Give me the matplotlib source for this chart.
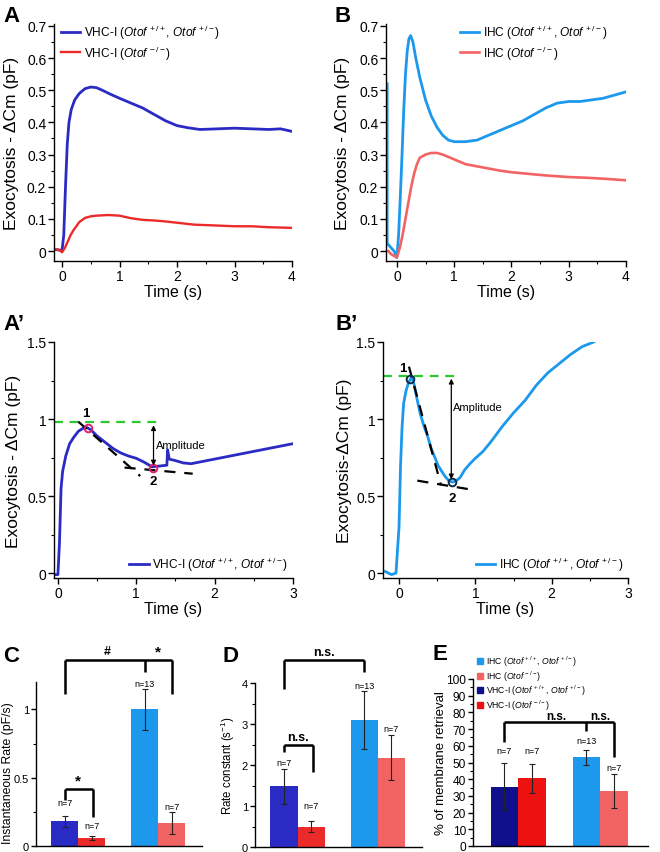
import numpy as np
import matplotlib
matplotlib.use("Agg")
import matplotlib.pyplot as plt
from matplotlib.ticker import MultipleLocator
from matplotlib.lines import Line2D

plt.rcParams['font.family'] = ['Liberation Sans', 'DejaVu Sans']
plt.rcParams['mathtext.fontset'] = 'custom'
plt.rcParams['mathtext.rm'] = 'Liberation Sans'
plt.rcParams['mathtext.it'] = 'Liberation Sans:italic'
plt.rcParams['mathtext.bf'] = 'Liberation Sans:bold'
plt.rcParams['axes.linewidth'] = 1.0

# ---- colours
c_vhc = '#2a2ac4'
c_vhc_ko = '#ec2a2a'
c_ihc = '#1c98ec'
c_ihc_ko = '#f26464'
c_navy = '#10108c'

# ---- panel A traces (VHC-I)
a_wt_t = [-0.14, -0.05, 0.0, 0.03, 0.06, 0.09, 0.12, 0.16, 0.22, 0.3, 0.4, 0.5, 0.6, 0.7,
          0.85, 1.0, 1.2, 1.4, 1.6, 1.8, 2.0, 2.2, 2.4, 2.7, 3.0, 3.3, 3.6, 3.8, 4.0]
a_wt_y = [0.005, 0.003, 0.002, 0.05, 0.2, 0.33, 0.4, 0.44, 0.47, 0.49, 0.505, 0.51, 0.508, 0.5,
          0.487, 0.475, 0.46, 0.445, 0.425, 0.405, 0.39, 0.383, 0.378, 0.38, 0.382, 0.38, 0.378, 0.38, 0.372]
a_ko_t = [-0.14, -0.05, 0.0, 0.05, 0.1, 0.15, 0.2, 0.3, 0.4, 0.5, 0.6, 0.8, 1.0, 1.2, 1.4, 1.6,
          1.8, 2.0, 2.3, 2.6, 3.0, 3.3, 3.6, 4.0]
a_ko_y = [0.005, 0.004, -0.004, 0.01, 0.03, 0.05, 0.065, 0.09, 0.103, 0.108, 0.11, 0.112, 0.11,
          0.102, 0.097, 0.095, 0.092, 0.088, 0.082, 0.08, 0.077, 0.077, 0.074, 0.072]

# ---- panel B traces (IHC)
b_wt_t = [-0.17, -0.17, -0.15, -0.1, -0.05, 0.0, 0.03, 0.06, 0.09, 0.12, 0.15, 0.18, 0.21, 0.24,
          0.28, 0.33, 0.4, 0.5, 0.6, 0.7, 0.8, 0.9, 1.0, 1.2, 1.4, 1.6, 1.8, 2.0, 2.2, 2.4, 2.6,
          2.8, 3.0, 3.2, 3.4, 3.6, 3.8, 4.0]
b_wt_y = [0.52, 0.02, 0.02, 0.01, 0.0, -0.02, 0.05, 0.17, 0.3, 0.44, 0.55, 0.62, 0.66, 0.67,
          0.65, 0.6, 0.54, 0.47, 0.42, 0.385, 0.36, 0.345, 0.34, 0.34, 0.345, 0.36, 0.375, 0.39,
          0.405, 0.425, 0.445, 0.46, 0.465, 0.465, 0.47, 0.475, 0.485, 0.495]
b_ko_t = [-0.15, -0.1, -0.05, 0.0, 0.05, 0.1, 0.15, 0.2, 0.25, 0.3, 0.35, 0.4, 0.5, 0.6, 0.7,
          0.8, 1.0, 1.2, 1.5, 1.8, 2.0, 2.3, 2.6, 3.0, 3.3, 3.6, 4.0]
b_ko_y = [0.0, -0.01, -0.015, -0.02, 0.01, 0.05, 0.1, 0.15, 0.2, 0.24, 0.27, 0.29, 0.3, 0.305,
          0.305, 0.3, 0.285, 0.27, 0.26, 0.25, 0.245, 0.24, 0.235, 0.23, 0.228, 0.225, 0.22]

# ---- panel A' trace
ap_t = [-0.04, 0.0, 0.02, 0.04, 0.06, 0.1, 0.15, 0.2, 0.26, 0.32, 0.37, 0.42, 0.5, 0.6, 0.7,
        0.8, 0.9, 1.0, 1.1, 1.2, 1.3, 1.39, 1.40, 1.42, 1.5, 1.6, 1.7, 1.8, 2.0, 2.2, 2.4, 2.6,
        2.8, 3.0]
ap_y = [-0.01, -0.01, 0.2, 0.55, 0.66, 0.76, 0.84, 0.88, 0.92, 0.94, 0.945, 0.93, 0.89, 0.85,
        0.81, 0.78, 0.76, 0.745, 0.72, 0.69, 0.695, 0.70, 0.80, 0.74, 0.73, 0.715, 0.71, 0.72,
        0.74, 0.76, 0.78, 0.80, 0.82, 0.84]
ap_pts_t = [0.39, 1.21]
ap_pts_y = [0.94, 0.68]
ap_level = 0.978
ap_fit1 = ([0.26, 1.05], [0.983, 0.63])
ap_fit2 = ([0.85, 1.72], [0.685, 0.645])

# ---- panel B' trace
bp_t = [-0.18, -0.1, -0.04, 0.0, 0.02, 0.04, 0.06, 0.09, 0.12, 0.15, 0.17, 0.2, 0.24, 0.28,
        0.33, 0.38, 0.42, 0.47, 0.51, 0.56, 0.6, 0.65, 0.7, 0.75, 0.8, 0.86, 0.93, 1.0, 1.1, 1.2,
        1.35, 1.5, 1.65, 1.8, 1.95, 2.1, 2.25, 2.4, 2.55]
bp_y = [0.01, -0.01, 0.0, 0.3, 0.7, 0.95, 1.1, 1.18, 1.23, 1.26, 1.27, 1.22, 1.12, 1.03, 0.95,
        0.88, 0.81, 0.75, 0.7, 0.66, 0.63, 0.6, 0.59, 0.6, 0.62, 0.67, 0.71, 0.745, 0.79, 0.85,
        0.95, 1.04, 1.12, 1.22, 1.3, 1.36, 1.42, 1.47, 1.5]
bp_pts_t = [0.15, 0.69]
bp_pts_y = [1.26, 0.59]
bp_level = 1.28
bp_fit1 = ([0.13, 0.55], [1.34, 0.57])
bp_fit2 = ([0.24, 0.97], [0.60, 0.54])

# ---- bar panels: order VHC-I wt, VHC-I ko, IHC wt, IHC ko
bar_x = [-0.17, 0.17, 0.83, 1.17]
c_vals = [0.18, 0.06, 1.0, 0.17]
c_errs = [0.04, 0.015, 0.15, 0.08]
d_vals = [1.48, 0.5, 3.1, 2.18]
d_errs = [0.42, 0.13, 0.7, 0.55]
e_vals = [35.5, 40.5, 53.0, 33.0]
e_errs = [14.0, 8.7, 4.5, 10.0]
n_labels = ['n=7', 'n=7', 'n=13', 'n=7']

W, H = 660, 853
fig = plt.figure(figsize=(W / 100, H / 100), dpi=100)


def px_axes(x0, x1, y0, y1):
    return fig.add_axes([x0 / W, 1 - y1 / H, (x1 - x0) / W, (y1 - y0) / H])


def style(ax):
    for s in ['top', 'right']:
        ax.spines[s].set_visible(False)
    ax.tick_params(labelsize=10, length=4, width=1, pad=1.5)
    ax.tick_params(which='minor', length=2.2, width=0.8)


def ital(cell, *sup):
    parts = [r'$\mathit{Otof}^{\,%s}$' % s for s in sup]
    return cell + ' (' + ', '.join(parts) + ')'


ylab = 'Exocytosis - \u0394Cm (pF)'
lab_fs = 12.5
time_fs = 11.5

# ---------- A
axA = px_axes(54, 292, 25, 262)
axA.plot(a_wt_t, a_wt_y, color=c_vhc, lw=2.0, label=ital('VHC-I', '+/+', '+/-'))
axA.plot(a_ko_t, a_ko_y, color=c_vhc_ko, lw=1.7, label=ital('VHC-I', '-/-'))
axA.set_xlim(-0.14, 4.0)
axA.set_ylim(-0.031, 0.706)
axA.xaxis.set_major_locator(MultipleLocator(1))
axA.xaxis.set_minor_locator(MultipleLocator(0.5))
axA.yaxis.set_minor_locator(MultipleLocator(0.05))
axA.set_yticks(np.arange(0, 0.71, 0.1))
axA.set_yticklabels(['0', '0.1', '0.2', '0.3', '0.4', '0.5', '0.6', '0.7'])
style(axA)
axA.set_xlabel('Time (s)', fontsize=time_fs, labelpad=1)
axA.set_ylabel(ylab, fontsize=lab_fs)
axA.yaxis.set_label_coords(-0.145, 0.5)
axA.legend(loc='upper left', bbox_to_anchor=(0.0, 1.035), frameon=False, fontsize=8.6,
           handlelength=1.6, handletextpad=0.3, labelspacing=0.2, borderaxespad=0.2)

# ---------- B
axB = px_axes(386, 626, 25, 262)
axB.plot(b_wt_t, b_wt_y, color=c_ihc, lw=2.0, label=ital('IHC', '+/+', '+/-'))
axB.plot(b_ko_t, b_ko_y, color=c_ihc_ko, lw=1.9, label=ital('IHC', '-/-'))
axB.set_xlim(-0.19, 4.0)
axB.set_ylim(-0.031, 0.706)
axB.xaxis.set_major_locator(MultipleLocator(1))
axB.xaxis.set_minor_locator(MultipleLocator(0.5))
axB.yaxis.set_minor_locator(MultipleLocator(0.05))
axB.set_yticks(np.arange(0, 0.71, 0.1))
axB.set_yticklabels(['0', '0.1', '0.2', '0.3', '0.4', '0.5', '0.6', '0.7'])
style(axB)
axB.set_xlabel('Time (s)', fontsize=time_fs, labelpad=1)
axB.set_ylabel(ylab, fontsize=lab_fs)
axB.yaxis.set_label_coords(-0.15, 0.5)
axB.legend(loc='upper left', bbox_to_anchor=(0.28, 1.035), frameon=False, fontsize=8.6,
           handlelength=1.6, handletextpad=0.3, labelspacing=0.2, borderaxespad=0.2)

# ---------- A'
axAp = px_axes(54, 293, 343, 579)
axAp.plot(ap_t, ap_y, color=c_vhc, lw=2.0, label=ital('VHC-I', '+/+', '+/-'))
axAp.plot([-0.05, 1.26], [ap_level, ap_level], color='#2ec82e', lw=1.6, ls=(0, (4, 3)))
axAp.plot(*ap_fit1, color='black', lw=1.6, ls=(0, (5, 4)))
axAp.plot(*ap_fit2, color='black', lw=1.6, ls=(0, (5, 4)))
axAp.plot(ap_pts_t, ap_pts_y, 'o', ms=5.5, mfc='none', mec='#e0206a', mew=1.4)
axAp.annotate('', xy=(1.22, ap_pts_y[1]), xytext=(1.22, ap_level),
              arrowprops=dict(arrowstyle='<|-|>', color='black', lw=0.9, mutation_scale=7))
axAp.text(1.25, 0.83, 'Amplitude', fontsize=8, va='center')
axAp.text(0.36, 1.0, '1', fontsize=9.5, fontweight='bold', ha='center', va='bottom')
axAp.text(1.21, 0.6, '2', fontsize=9.5, fontweight='bold', ha='center', va='center')
axAp.set_xlim(-0.05, 3.0)
axAp.set_ylim(-0.032, 1.5)
axAp.xaxis.set_major_locator(MultipleLocator(1))
axAp.xaxis.set_minor_locator(MultipleLocator(0.5))
axAp.set_yticks([0, 0.5, 1, 1.5])
axAp.set_yticklabels(['0', '0.5', '1', '1.5'])
axAp.yaxis.set_minor_locator(MultipleLocator(0.25))
style(axAp)
axAp.set_xlabel('Time (s)', fontsize=time_fs, labelpad=1)
axAp.set_ylabel(ylab, fontsize=lab_fs)
axAp.yaxis.set_label_coords(-0.14, 0.5)
axAp.legend(handles=[axAp.lines[0]], loc='lower right', frameon=False, fontsize=8.6,
            handlelength=1.6, handletextpad=0.3, borderaxespad=0.0)

# ---------- B'
axBp = px_axes(383, 628, 343, 579)
axBp.plot(bp_t, bp_y, color=c_ihc, lw=2.0, label=ital('IHC', '+/+', '+/-'))
axBp.plot([-0.21, 0.75], [bp_level, bp_level], color='#2ec82e', lw=1.6, ls=(0, (4, 3)))
axBp.plot(*bp_fit1, color='black', lw=1.6, ls=(0, (5, 4)))
axBp.plot(*bp_fit2, color='black', lw=1.6, ls=(0, (5, 4)))
axBp.plot(bp_pts_t, bp_pts_y, 'o', ms=5.5, mfc='none', mec='#0b2a44', mew=1.4)
axBp.annotate('', xy=(0.685, bp_pts_y[1]), xytext=(0.685, bp_level),
              arrowprops=dict(arrowstyle='<|-|>', color='black', lw=0.9, mutation_scale=7))
axBp.text(0.71, 1.08, 'Amplitude', fontsize=8, va='center')
axBp.text(0.05, 1.33, '1', fontsize=9.5, fontweight='bold', ha='center', va='center')
axBp.text(0.69, 0.49, '2', fontsize=9.5, fontweight='bold', ha='center', va='center')
axBp.set_xlim(-0.21, 3.0)
axBp.set_ylim(-0.032, 1.5)
axBp.xaxis.set_major_locator(MultipleLocator(1))
axBp.xaxis.set_minor_locator(MultipleLocator(0.5))
axBp.set_yticks([0, 0.5, 1, 1.5])
axBp.set_yticklabels(['0', '0.5', '1', '1.5'])
axBp.yaxis.set_minor_locator(MultipleLocator(0.25))
style(axBp)
axBp.set_xlabel('Time (s)', fontsize=time_fs, labelpad=1)
axBp.set_ylabel('Exocytosis-\u0394Cm (pF)', fontsize=lab_fs)
axBp.yaxis.set_label_coords(-0.125, 0.5)
axBp.legend(handles=[axBp.lines[0]], loc='lower right', frameon=False, fontsize=8.6,
            handlelength=1.6, handletextpad=0.3, borderaxespad=0.0)


# ---------- bar panels
def bars(ax, vals, errs, colors, width=0.34):
    ax.bar(bar_x, vals, width=width, color=colors, edgecolor='none')
    ax.errorbar(bar_x, vals, yerr=errs, fmt='none', ecolor='#222222', elinewidth=0.8,
                capsize=2, capthick=0.8)
    for s in ['top', 'right']:
        ax.spines[s].set_visible(False)
    ax.set_xticks([])
    ax.tick_params(labelsize=8, length=3.5, width=1, pad=1.5)
    ax.tick_params(which='minor', length=2, width=0.8)


def bracket(ax, xs, top, legs, lw=1.8):
    ax.plot([xs[0], xs[-1]], [top, top], color='black', lw=lw, clip_on=False,
            solid_capstyle='butt')
    for x, b in zip(xs, legs):
        ax.plot([x, x], [top, b], color='black', lw=lw, clip_on=False, solid_capstyle='butt')


def nlabels(ax, ys):
    for x, y, t in zip(bar_x, ys, n_labels):
        ax.text(x, y, t, fontsize=6.5, ha='center', va='center', clip_on=False)


bar_cols = [c_vhc, c_vhc_ko, c_ihc, c_ihc_ko]

# C
axC = px_axes(36, 202, 683, 847)
bars(axC, c_vals, c_errs, bar_cols)
axC.set_xlim(-0.53, 1.55)
axC.set_ylim(0, 1.2)
axC.set_yticks([0, 0.5, 1])
axC.set_yticklabels(['0', '0.5', '1'])
axC.yaxis.set_minor_locator(MultipleLocator(0.25))
axC.set_ylabel('Instantaneous Rate (pF/s)', fontsize=8.8)
axC.yaxis.set_label_coords(-0.13, 0.45)
bracket(axC, [-0.17, 0.83, 1.17], 1.36, [1.11, 1.27, 1.11])
axC.text(0.36, 1.38, '#', fontsize=9, fontweight='bold', ha='center', va='bottom')
axC.text(1.0, 1.37, '*', fontsize=11, fontweight='bold', ha='center', va='bottom')
bracket(axC, [-0.17, 0.19], 0.42, [0.34, 0.21])
axC.text(0.0, 0.43, '*', fontsize=11, fontweight='bold', ha='center', va='bottom')
nlabels(axC, [0.32, 0.15, 1.19, 0.29])

# D
axD = px_axes(255, 422, 684, 848)
bars(axD, d_vals, d_errs, bar_cols)
axD.set_xlim(-0.53, 1.55)
axD.set_ylim(0, 4)
axD.set_yticks([0, 1, 2, 3, 4])
axD.yaxis.set_minor_locator(MultipleLocator(0.5))
axD.set_ylabel('Rate constant (s$^{-1}$)', fontsize=8.3)
axD.yaxis.set_label_coords(-0.105, 0.5)
bracket(axD, [-0.17, 0.83], 4.56, [3.85, 4.27])
axD.text(0.33, 4.6, 'n.s.', fontsize=9, fontweight='bold', ha='center', va='bottom')
bracket(axD, [-0.17, 0.19], 2.49, [2.32, 1.83])
axD.text(0.0, 2.53, 'n.s.', fontsize=9, fontweight='bold', ha='center', va='bottom')
nlabels(axD, [2.07, 1.0, 3.95, 2.9])

# E
axE = px_axes(473, 648, 680, 847)
bars(axE, e_vals, e_errs, [c_navy, '#ee1111', c_ihc, c_ihc_ko], width=0.33)
axE.set_xlim(-0.55, 1.585)
axE.set_ylim(0, 100)
axE.set_yticks(np.arange(0, 101, 10))
axE.yaxis.set_minor_locator(MultipleLocator(5))
axE.tick_params(labelsize=8.6)
axE.set_ylabel('% of membrane retrieval', fontsize=9.5)
axE.yaxis.set_label_coords(-0.15, 0.5)
bracket(axE, [-0.17, 0.83, 1.17], 74, [62, 69, 53])
axE.text(0.47, 74.3, 'n.s.', fontsize=8.5, fontweight='bold', ha='center', va='bottom')
axE.text(1.0, 74.3, 'n.s.', fontsize=8.5, fontweight='bold', ha='center', va='bottom')
nlabels(axE, [57, 57, 63, 47])
e_handles = [Line2D([], [], ls='none', marker='s', ms=4, color=c)
             for c in [c_ihc, c_ihc_ko, c_navy, '#ee1111']]
e_texts = [ital('IHC', '+/+', '+/-'), ital('IHC', '-/-'),
           ital('VHC-I', '+/+', '+/-'), ital('VHC-I', '-/-')]
axE.legend(e_handles, e_texts, loc='upper left', bbox_to_anchor=(0.0, 1.17), frameon=False,
           fontsize=6.2, handlelength=0.8, handletextpad=0.3, labelspacing=0.0,
           borderaxespad=0.0)

# ---------- panel letters
letters = [('A', 3, 6), ('B', 335, 6), ('A\u2019', 3, 314), ('B\u2019', 336, 314),
           ('C', 3, 646), ('D', 222, 646), ('E', 432, 644)]
for t, x, y in letters:
    fig.text(x / W, 1 - y / H, t, fontsize=16, fontweight='bold', ha='left', va='top')

fig.savefig('out.png', dpi=100)
